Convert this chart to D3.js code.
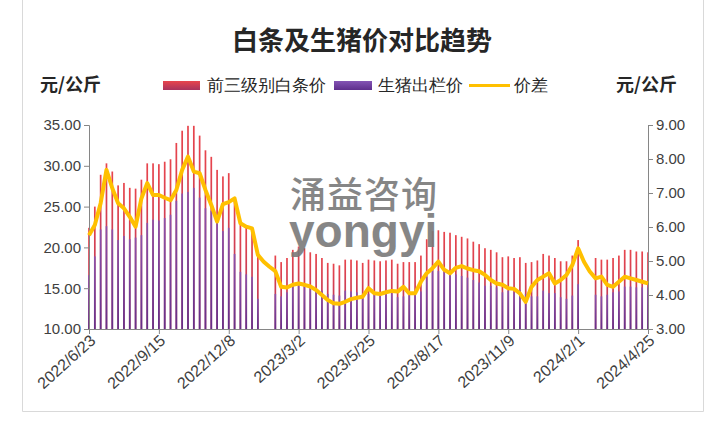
<!DOCTYPE html>
<html>
<head>
<meta charset="utf-8">
<script src="https://cdn.jsdelivr.net/npm/d3@7"></script>
<style>
body { margin: 0; background: #fff; }
text { font-family: "Liberation Sans", Arial, sans-serif; }
.cjk { font-family: "Noto Sans CJK SC", sans-serif; }
</style>
</head>
<body>
<svg width="713" height="421"></svg>
<script>
// weekly data, 2022/6/23 .. 2024/4/25 (null = no quote that week)
var whitePrice = [22.4,25.0,28.9,30.3,29.3,27.6,27.9,27.3,27.2,28.3,30.3,30.3,30.2,30.5,30.8,32.8,34.3,34.9,34.9,33.7,
  31.9,31.1,29.5,28.7,29.1,26.0,23.1,22.7,22.4,18.9,null,null,19.0,18.2,18.7,19.7,20.1,19.9,19.4,19.2,
  18.7,18.1,18.0,17.8,18.5,18.5,18.4,18.1,18.5,18.4,18.3,18.4,18.5,18.0,18.2,18.2,18.2,19.0,21.0,22.0,
  22.1,21.9,21.8,21.5,21.3,21.1,20.7,20.4,19.9,19.7,19.4,18.8,18.9,18.7,18.8,18.1,18.2,18.4,19.2,19.0,
  18.7,18.3,18.3,19.0,20.9,null,null,18.7,18.5,18.5,18.7,19.0,19.7,19.7,19.5,19.5,19.4];
var hogPrice = [16.6,18.9,22.2,22.6,22.2,20.9,21.4,21.0,21.2,21.5,23.0,23.4,23.3,23.6,24.0,25.7,26.6,26.8,27.3,26.1,
  24.8,24.5,23.3,22.0,22.4,19.2,17.0,16.7,16.4,13.7,null,null,14.3,14.0,14.5,15.4,15.8,15.6,15.2,15.0,
  14.7,14.3,14.2,14.1,14.7,14.6,14.5,14.2,14.3,14.4,14.3,14.3,14.4,13.9,14.0,14.2,14.2,14.6,16.4,17.2,
  17.1,17.2,17.2,16.7,16.5,16.3,16.0,15.7,15.3,15.3,15.1,14.5,14.7,14.5,14.8,14.3,14.0,14.0,14.7,14.4,
  14.4,13.9,13.7,14.1,15.5,null,null,14.2,14.0,14.2,14.5,14.6,15.2,15.2,15.1,15.1,15.1];
var spread = [5.76,6.06,6.70,7.68,7.14,6.70,6.55,6.30,6.01,6.84,7.29,6.94,6.94,6.86,6.79,7.09,7.68,8.07,7.63,7.58,
  7.09,6.65,6.16,6.67,6.73,6.84,6.11,6.01,5.96,5.18,4.98,4.83,4.70,4.24,4.22,4.30,4.34,4.30,4.25,4.15,
  4.00,3.85,3.76,3.74,3.80,3.88,3.92,3.95,4.20,4.05,4.03,4.08,4.12,4.10,4.24,4.05,4.05,4.39,4.64,4.79,
  4.98,4.74,4.64,4.80,4.85,4.78,4.73,4.70,4.59,4.44,4.34,4.30,4.20,4.18,4.05,3.80,4.24,4.44,4.54,4.64,
  4.34,4.44,4.59,4.88,5.37,4.98,4.69,4.49,4.54,4.30,4.24,4.39,4.54,4.49,4.44,4.39,4.34];
var tickLabels = ["2022/6/23","2022/9/15","2022/12/8","2023/3/2","2023/5/25","2023/8/17","2023/11/9","2024/2/1","2024/4/25"];
var leftTicks = [10,15,20,25,30,35];
var rightTicks = [3,4,5,6,7,8,9];

var svg = d3.select("svg");
var parse = d3.timeParse("%Y/%m/%d");
var first = parse(tickLabels[0]);
var weeks = whitePrice.map(function(d, i) { return d3.timeDay.offset(first, i * 7); });

var pLeft = 89, pRight = 648, pTop = 125, pBottom = 329;
var x = d3.scaleTime().domain([first, parse(tickLabels[tickLabels.length - 1])]).range([pLeft, pRight]);
var yL = d3.scaleLinear().domain([10, 35]).range([pBottom, pTop]);
var yR = d3.scaleLinear().domain([3, 9]).range([pBottom, pTop]);
var barW = 1.7;

// frame
svg.append("path")
    .attr("d", "M22.5,0V411.5H703.5V0")
    .attr("fill", "none")
    .attr("stroke", "#d9d9d9");

var defs = svg.append("defs");
var g1 = defs.append("linearGradient").attr("id", "redg").attr("x1", 0).attr("x2", 0).attr("y1", 0).attr("y2", 1);
g1.append("stop").attr("offset", "0%").attr("stop-color", "#e8454d");
g1.append("stop").attr("offset", "100%").attr("stop-color", "#a8345e");
var g2 = defs.append("linearGradient").attr("id", "purg").attr("x1", 0).attr("x2", 0).attr("y1", 0).attr("y2", 1);
g2.append("stop").attr("offset", "0%").attr("stop-color", "#8454b4");
g2.append("stop").attr("offset", "100%").attr("stop-color", "#5e2e8c");

// title
svg.append("text").attr("class", "cjk")
    .attr("x", 362).attr("y", 50)
    .attr("text-anchor", "middle")
    .attr("font-size", 26).attr("font-weight", 700)
    .attr("fill", "#262626")
    .text("白条及生猪价对比趋势");

svg.append("text").attr("class", "cjk")
    .attr("x", 40).attr("y", 91)
    .attr("font-size", 18).attr("font-weight", 700).attr("fill", "#262626")
    .text("元/公斤");
svg.append("text").attr("class", "cjk")
    .attr("x", 616).attr("y", 91)
    .attr("font-size", 18).attr("font-weight", 700).attr("fill", "#262626")
    .text("元/公斤");

// legend
var lg = svg.append("g").attr("class", "cjk").attr("font-size", 17).attr("fill", "#262626");
lg.append("rect").attr("x", 163).attr("y", 81).attr("width", 37).attr("height", 9).attr("fill", "url(#redg)");
lg.append("text").attr("x", 207).attr("y", 91).text("前三级别白条价");
lg.append("rect").attr("x", 334).attr("y", 81).attr("width", 38).attr("height", 9).attr("fill", "url(#purg)");
lg.append("text").attr("x", 378).attr("y", 91).text("生猪出栏价");
lg.append("line").attr("x1", 469).attr("x2", 510).attr("y1", 85.5).attr("y2", 85.5)
    .attr("stroke", "#ffc000").attr("stroke-width", 3);
lg.append("text").attr("x", 514).attr("y", 91).text("价差");

// bars
svg.append("g").selectAll("rect")
    .data(whitePrice.map(function(v, i) { return {d: weeks[i], v: v}; }).filter(function(d) { return d.v != null; }))
    .enter().append("rect")
    .attr("x", function(d) { return x(d.d) - barW / 2; })
    .attr("width", barW)
    .attr("y", function(d) { return yL(d.v); })
    .attr("height", function(d) { return pBottom - yL(d.v); })
    .attr("fill", "url(#redg)");

svg.append("g").selectAll("rect")
    .data(hogPrice.map(function(v, i) { return {d: weeks[i], v: v}; }).filter(function(d) { return d.v != null; }))
    .enter().append("rect")
    .attr("x", function(d) { return x(d.d) - barW / 2; })
    .attr("width", barW)
    .attr("y", function(d) { return yL(d.v); })
    .attr("height", function(d) { return pBottom - yL(d.v); })
    .attr("fill", "url(#purg)")
    .attr("opacity", 0.9);

// axes
var axL = svg.append("g").attr("transform", "translate(" + pLeft + ",0)")
    .call(d3.axisLeft(yL).tickValues(leftTicks).tickFormat(d3.format(".2f")).tickSizeOuter(0).tickSize(5).tickPadding(3));
var axR = svg.append("g").attr("transform", "translate(" + pRight + ",0)")
    .call(d3.axisRight(yR).tickValues(rightTicks).tickFormat(d3.format(".2f")).tickSizeOuter(0).tickSize(5).tickPadding(3));
var axB = svg.append("g").attr("transform", "translate(0," + pBottom + ")")
    .call(d3.axisBottom(x).tickValues(tickLabels.map(parse)).tickFormat(d3.timeFormat("%Y/%-m/%-d")).tickSizeOuter(0).tickSize(5));

[axL, axR, axB].forEach(function(a) {
    a.selectAll("path, line").attr("stroke", "#868686");
    a.selectAll("text").attr("fill", "#404040").attr("font-size", 15)
        .attr("font-family", "'Liberation Sans', Arial, sans-serif");
});
axB.selectAll("text")
    .attr("font-size", 16)
    .attr("text-anchor", "end")
    .attr("dy", null).attr("y", null)
    .attr("transform", "translate(7,13) rotate(-42)");

// spread line (gaps connected)
var pts = spread.map(function(v, i) { return {d: weeks[i], v: v}; }).filter(function(d) { return d.v != null; });
svg.append("path")
    .datum(pts)
    .attr("fill", "none")
    .attr("stroke", "#ffc000")
    .attr("stroke-width", 4)
    .attr("stroke-linejoin", "round")
    .attr("d", d3.line().x(function(d) { return x(d.d); }).y(function(d) { return yR(d.v); }));

// watermark
var wm = svg.append("g").attr("fill", "#7a7a7a").attr("opacity", 0.9);
wm.append("text").attr("class", "cjk").attr("x", 290).attr("y", 208)
    .attr("font-size", 36).attr("font-weight", 500).attr("letter-spacing", 1).text("涌益咨询");
wm.append("text").attr("x", 289).attr("y", 247)
    .attr("font-family", "Lato, sans-serif").attr("font-weight", 700).attr("font-size", 46).text("yongyi");
</script>
</body>
</html>
